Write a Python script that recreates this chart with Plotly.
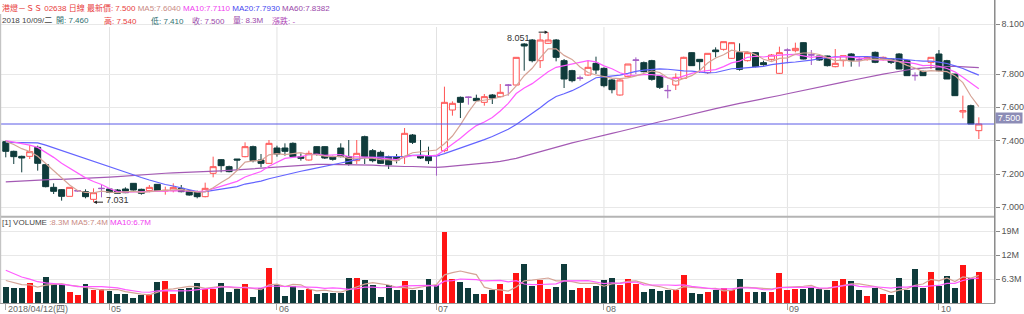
import plotly.graph_objects as go
import pandas as pd

W, H = 1024, 314
FONT = "Liberation Sans, Arial, Noto Sans CJK TC, sans-serif"

# ---------------- data ----------------
opens = [7.394, 7.336, 7.306, 7.306, 7.36, 7.256, 7.12, 7.106, 7.066, 7.098,
         7.094, 7.048, 7.112, 7.11, 7.104, 7.11, 7.144, 7.108, 7.10, 7.138,
         7.098, 7.10, 7.114, 7.10, 7.094, 7.064, 7.204, 7.286, 7.244, 7.29,
         7.304, 7.364, 7.284, 7.264, 7.356, 7.356, 7.384, 7.304, 7.284, 7.364,
         7.364, 7.304, 7.356, 7.304, 7.28, 7.424, 7.34, 7.33, 7.304, 7.304,
         7.304, 7.434, 7.31, 7.31, 7.312, 7.34, 7.584, 7.66, 7.662, 7.654,
         7.63, 7.674, 7.664, 7.732, 7.734, 7.98, 8.004, 7.88, 7.984, 8.004,
         7.88, 7.82, 7.774, 7.794, 7.864, 7.834, 7.764, 7.674, 7.784, 7.882,
         7.868, 7.88, 7.788, 7.702, 7.734, 7.774, 7.928, 7.888, 7.808, 7.944,
         7.948, 7.894, 7.928, 7.88, 7.928, 7.868, 7.888, 7.804, 7.942, 7.94,
         7.988, 7.916, 7.908, 7.908, 7.844, 7.88, 7.92, 7.886, 7.886, 7.93,
         7.886, 7.89, 7.92, 7.88, 7.792, 7.816, 7.87, 7.92, 7.88, 7.80,
         7.572, 7.61, 7.46]
highs = [7.40, 7.34, 7.31, 7.374, 7.37, 7.26, 7.144, 7.11, 7.12, 7.104,
         7.108, 7.114, 7.14, 7.115, 7.11, 7.12, 7.146, 7.112, 7.134, 7.14,
         7.124, 7.144, 7.134, 7.104, 7.10, 7.148, 7.304, 7.29, 7.25, 7.29,
         7.39, 7.37, 7.32, 7.404, 7.37, 7.384, 7.39, 7.324, 7.34, 7.366,
         7.366, 7.31, 7.384, 7.404, 7.404, 7.43, 7.35, 7.34, 7.31, 7.32,
         7.476, 7.44, 7.404, 7.364, 7.315, 7.724, 7.636, 7.665, 7.665, 7.676,
         7.68, 7.68, 7.74, 7.74, 7.90, 7.985, 8.01, 8.044, 8.051, 8.01,
         7.89, 7.825, 7.79, 7.88, 7.904, 7.84, 7.77, 7.77, 7.86, 7.90,
         7.875, 7.885, 7.79, 7.734, 7.804, 7.904, 7.93, 7.89, 7.924, 7.96,
         7.994, 7.99, 7.984, 7.93, 7.93, 7.88, 7.92, 7.964, 7.954, 7.988,
         7.99, 7.944, 7.91, 7.91, 7.95, 7.91, 7.925, 7.90, 7.905, 7.935,
         7.905, 7.895, 7.925, 7.885, 7.81, 7.82, 7.90, 7.944, 7.885, 7.80,
         7.67, 7.616, 7.54]
lows = [7.30, 7.26, 7.21, 7.29, 7.22, 7.12, 7.08, 7.04, 7.066, 7.094,
        7.054, 7.031, 7.06, 7.085, 7.08, 7.085, 7.10, 7.076, 7.09, 7.096,
        7.076, 7.09, 7.09, 7.07, 7.054, 7.06, 7.18, 7.21, 7.21, 7.22,
        7.30, 7.27, 7.24, 7.26, 7.304, 7.31, 7.30, 7.28, 7.28, 7.31,
        7.29, 7.28, 7.30, 7.25, 7.26, 7.26, 7.27, 7.26, 7.23, 7.264,
        7.26, 7.38, 7.29, 7.26, 7.19, 7.33, 7.55, 7.536, 7.616, 7.636,
        7.61, 7.62, 7.66, 7.67, 7.73, 7.82, 7.87, 7.836, 7.98, 7.876,
        7.716, 7.75, 7.76, 7.79, 7.80, 7.72, 7.684, 7.67, 7.78, 7.80,
        7.81, 7.76, 7.71, 7.654, 7.704, 7.77, 7.848, 7.808, 7.80, 7.90,
        7.94, 7.89, 7.82, 7.875, 7.84, 7.85, 7.88, 7.80, 7.864, 7.93,
        7.888, 7.854, 7.88, 7.845, 7.84, 7.844, 7.844, 7.844, 7.88, 7.865,
        7.88, 7.86, 7.83, 7.79, 7.76, 7.79, 7.83, 7.815, 7.77, 7.67,
        7.534, 7.50, 7.41]
closes = [7.336, 7.304, 7.296, 7.334, 7.264, 7.124, 7.096, 7.066, 7.12, 7.10,
          7.064, 7.088, 7.114, 7.09, 7.084, 7.088, 7.104, 7.084, 7.12, 7.10,
          7.102, 7.12, 7.094, 7.074, 7.064, 7.114, 7.244, 7.25, 7.214, 7.284,
          7.364, 7.28, 7.264, 7.384, 7.32, 7.336, 7.304, 7.294, 7.324, 7.32,
          7.296, 7.288, 7.304, 7.26, 7.324, 7.304, 7.28, 7.264, 7.256, 7.284,
          7.444, 7.39, 7.296, 7.28, 7.31, 7.63, 7.624, 7.63, 7.66, 7.64,
          7.664, 7.656, 7.69, 7.734, 7.90, 7.968, 7.88, 8.004, 8.004, 7.90,
          7.77, 7.76, 7.776, 7.84, 7.824, 7.73, 7.706, 7.764, 7.86, 7.884,
          7.814, 7.768, 7.72, 7.70, 7.78, 7.90, 7.85, 7.874, 7.924, 7.934,
          7.994, 7.988, 7.828, 7.928, 7.844, 7.856, 7.914, 7.928, 7.944, 7.954,
          7.89, 7.914, 7.884, 7.85, 7.864, 7.91, 7.88, 7.884, 7.90, 7.87,
          7.90, 7.87, 7.83, 7.79, 7.79, 7.79, 7.90, 7.82, 7.77, 7.67,
          7.58, 7.50, 7.50]
volumes = [4.4, 4.2, 4.0, 5.5, 3.1, 7.0, 5.2, 5.1, 3.1, 2.2,
           5.1, 3.5, 3.8, 3.3, 2.4, 2.4, 1.6, 2.3, 2.4, 5.7,
           6.0, 2.6, 3.9, 4.0, 5.3, 3.8, 3.8, 5.3, 3.1, 3.8,
           5.2, 1.7, 4.0, 9.4, 4.9, 2.0, 4.5, 3.5, 3.8, 2.6,
           2.8, 2.8, 2.8, 6.8, 6.6, 6.1, 4.8, 1.7, 4.8, 3.5,
           5.9, 3.5, 3.7, 6.4, 4.9, 18.9, 6.4, 5.8, 4.0, 2.6,
           2.4, 3.5, 5.1, 2.4, 8.1, 10.3, 4.6, 6.3, 3.9, 4.4,
           10.3, 3.5, 4.0, 4.0, 4.6, 6.3, 6.6, 4.9, 6.5, 5.1,
           3.1, 3.9, 3.4, 3.6, 3.5, 7.5, 2.9, 2.4, 3.1, 3.7,
           4.2, 3.5, 6.4, 3.1, 3.1, 3.1, 3.1, 8.1, 3.5, 3.8,
           3.9, 4.2, 3.8, 3.5, 5.9, 6.4, 5.9, 3.7, 1.9, 4.2,
           2.4, 2.2, 6.6, 3.5, 9.0, 4.0, 8.4, 4.6, 7.3, 4.2,
           10.1, 6.8, 8.3]
# closes / volumes before the first visible day (estimated so the moving averages start where the picture shows)
prior_closes = [7.12, 7.10, 7.08, 7.10, 7.06, 7.04, 7.06, 7.02, 7.00, 6.98,
                6.96, 6.92, 6.88, 6.90, 6.86, 6.84, 6.88, 6.92, 6.94, 6.96,
                6.98, 7.00, 6.98, 7.02, 7.04, 7.02, 7.06, 7.04, 7.08, 7.10,
                7.08, 7.10, 7.06, 7.12, 7.14, 7.12, 7.16, 7.18, 7.20, 7.24,
                7.30, 7.32, 7.30, 7.34, 7.40, 7.42, 7.44, 7.42, 7.44, 7.42,
                7.38, 7.40, 7.42, 7.40, 7.42, 7.40, 7.42, 7.42, 7.404]
prior_volumes = [14, 12, 11, 10, 10, 7, 6.5, 6, 6]

month_idx = [0, 13, 34, 54, 75, 98, 117]
month_labels = ["2018/04/12(四)", "05", "06", "07", "08", "09", "10"]
price_ticks = [7.0, 7.2, 7.4, 7.6, 7.8, 8.1]
vol_ticks = [6.3, 12.6, 18.9]
vol_tick_text = ["6.3M", "12M", "19M"]
last_price = 7.5

header1 = [("港燈－ＳＳ 02638 日線 最新價: 7.500", "#e83c3c"), ("MA5:7.6040", "#c98a84"),
           ("MA10:7.7110", "#f040f0"), ("MA20:7.7930", "#4646f0"), ("MA60:7.8382", "#9a48aa")]
header2 = [("2018 10/09/二", "#444444"), ("開: 7.460", "#2f7070"), ("高: 7.540", "#e83c3c"),
           ("低: 7.410", "#2f7070"), ("收: 7.500", "#9a48aa"), ("量: 8.3M", "#9a48aa"),
           ("漲跌: -", "#b048b8")]
header2_x = [1, 55, 103, 150, 192, 233, 272]
header_vol = [("[1] VOLUME", "#444444"), (":8.3M MA5:7.4M", "#c98a84"), ("MA10:6.7M", "#f040f0")]

# ---------------- colours ----------------
RED = "#ff5454"
DARK = "#0f3b3b"
DOJI = "#a35cc4"
VRED = "#ff1414"
C_MA5, C_MA10, C_MA20, C_MA60 = "#d6a497", "#ff5cff", "#6464ff", "#a45ab4"

# ---------------- geometry (pixels) ----------------
X_RIGHT = 997.7
PRICE_BOT = 216.7
VOL_BOT = 303.3


def py(p):
    return 1 - p / H


n = len(closes)
idx = list(range(n))

allc = pd.Series(prior_closes + closes)
k = len(prior_closes)
ma = {w: allc.rolling(w).mean().iloc[k:].tolist() for w in (5, 10, 20, 60)}
allv = pd.Series(prior_volumes + volumes)
kv = len(prior_volumes)
vma = {w: allv.rolling(w).mean().iloc[kv:].tolist() for w in (5, 10)}

EPS = 0.0025
up = [i for i in idx if closes[i] - opens[i] > EPS]
dn = [i for i in idx if opens[i] - closes[i] > EPS]
dj = [i for i in idx if abs(closes[i] - opens[i]) <= EPS]


def candles(ids, line_col, fill_col):
    st = dict(line=dict(color=line_col, width=1), fillcolor=fill_col)
    return go.Candlestick(
        x=ids, open=[opens[i] for i in ids], high=[highs[i] for i in ids],
        low=[lows[i] for i in ids], close=[closes[i] for i in ids],
        increasing=st, decreasing=st, whiskerwidth=0, showlegend=False,
        hoverinfo="skip", xaxis="x", yaxis="y")


fig = go.Figure()
for w, c in ((60, C_MA60), (20, C_MA20), (10, C_MA10), (5, C_MA5)):
    fig.add_trace(go.Scatter(x=idx, y=ma[w], mode="lines", line=dict(color=c, width=1.2),
                             hoverinfo="skip", xaxis="x", yaxis="y"))
fig.add_trace(candles(up, RED, "white"))
fig.add_trace(candles(dn, DARK, DARK))
fig.add_trace(candles(dj, DOJI, DOJI))

vcols = [VRED if closes[i] > opens[i] else DARK for i in idx]
fig.add_trace(go.Bar(x=idx, y=volumes, marker=dict(color=vcols, line=dict(width=0)), width=0.74,
                     hoverinfo="skip", xaxis="x", yaxis="y2"))
fig.add_trace(go.Scatter(x=idx, y=vma[5], mode="lines", line=dict(color=C_MA5, width=1.2),
                         hoverinfo="skip", xaxis="x", yaxis="y2"))
fig.add_trace(go.Scatter(x=idx, y=vma[10], mode="lines", line=dict(color=C_MA10, width=1.2),
                         hoverinfo="skip", xaxis="x", yaxis="y2"))

price_lo = 7.8 - (PRICE_BOT - 74) / 166.67
price_hi = 7.8 + 74 / 166.67
vol_hi = (VOL_BOT - PRICE_BOT) / 3.81

axis_font = dict(family=FONT, size=9, color="#555")
fig.update_layout(
    width=W, height=H, margin=dict(l=0, r=0, t=0, b=0),
    paper_bgcolor="white", plot_bgcolor="white", showlegend=False,
    boxgap=0.25, boxgroupgap=0, bargap=0,
    font=dict(family=FONT, size=9, color="#555"),
    xaxis=dict(domain=[0, X_RIGHT / W], range=[-0.725, 124], anchor="y2",
               showgrid=False, zeroline=False, showline=True, linecolor="#999",
               ticks="outside", ticklen=6, tickcolor="#aaa", tickvals=month_idx,
               showticklabels=False, rangeslider=dict(visible=False), fixedrange=True),
    yaxis=dict(domain=[py(PRICE_BOT), 1], range=[price_lo, price_hi], side="right", anchor="x",
               tickvals=price_ticks, ticktext=[f"{v:.3f}" for v in price_ticks],
               ticks="outside", ticklen=4, tickcolor="#888", tickfont=axis_font,
               showgrid=True, gridcolor="#e8e8e8", zeroline=False, showline=False, fixedrange=True),
    yaxis2=dict(domain=[py(VOL_BOT), py(PRICE_BOT)], range=[0, vol_hi], side="right", anchor="x",
                tickvals=vol_ticks, ticktext=vol_tick_text,
                ticks="outside", ticklen=4, tickcolor="#888", tickfont=axis_font,
                showgrid=True, gridcolor="#e8e8e8", zeroline=False, showline=False, fixedrange=True),
)

shapes = []
for m in month_idx[1:]:
    shapes.append(dict(type="line", xref="x", yref="paper", x0=m, x1=m, y0=py(VOL_BOT), y1=py(27),
                       line=dict(color="#e2e2e2", width=1), layer="below"))
shapes += [
    dict(type="line", xref="paper", yref="y", x0=0, x1=X_RIGHT / W, y0=last_price, y1=last_price,
         line=dict(color="#5a5ae6", width=1)),
    dict(type="line", xref="paper", yref="paper", x0=0, x1=X_RIGHT / W, y0=py(PRICE_BOT), y1=py(PRICE_BOT),
         line=dict(color="#b4b4b4", width=2)),
    dict(type="line", xref="paper", yref="paper", x0=X_RIGHT / W, x1=X_RIGHT / W, y0=py(VOL_BOT), y1=1,
         line=dict(color="#8a8a8a", width=1.5)),
    dict(type="line", xref="paper", yref="paper", x0=0.6 / W, x1=0.6 / W, y0=py(VOL_BOT), y1=py(14),
         line=dict(color="#c4c4c4", width=1.2)),
]
fig.update_layout(shapes=shapes)


def header(xp, yp, parts, size=8):
    s = " ".join(f'<span style="color:{c}">{t}</span>' for t, c in parts)
    return dict(xref="paper", yref="paper", x=xp / W, y=py(yp), xanchor="left", yanchor="middle",
                text=s, showarrow=False, font=dict(family=FONT, size=size, color="#444"), borderpad=0)


ann = [header(1, 8, header1), header(1, 223, header_vol)]
for xp, part in zip(header2_x, header2):
    ann.append(header(xp, 21, [part]))
for m, lab in zip(month_idx, month_labels):
    ann.append(dict(xref="x", yref="paper", x=m, y=py(308.5), xanchor="left", yanchor="middle",
                    xshift=0, text=lab, showarrow=False, font=dict(family=FONT, size=9, color="#666")))

hi_i = max(idx, key=lambda i: highs[i])
lo_i = min(idx, key=lambda i: lows[i])
ann += [
    dict(xref="x", yref="y", x=hi_i, y=highs[hi_i], ax=-11, ay=0, text="", showarrow=True,
         arrowhead=2, arrowsize=0.7, arrowwidth=1, arrowcolor="#222"),
    dict(xref="x", yref="y", x=hi_i, y=highs[hi_i], xanchor="right", yanchor="middle",
         xshift=-16, yshift=-6, text=f"{highs[hi_i]:.3f}", showarrow=False,
         font=dict(family=FONT, size=9, color="#333")),
    dict(xref="x", yref="y", x=lo_i, y=lows[lo_i], ax=11, ay=0, text="", showarrow=True,
         arrowhead=2, arrowsize=0.7, arrowwidth=1, arrowcolor="#222"),
    dict(xref="x", yref="y", x=lo_i, y=lows[lo_i], xanchor="left", yanchor="middle",
         xshift=10, yshift=2, text=f"{lows[lo_i]:.3f}", showarrow=False,
         font=dict(family=FONT, size=9, color="#333")),
    dict(xref="paper", yref="y", x=X_RIGHT / W, y=last_price, xanchor="left", yanchor="bottom",
         text=f"{last_price:.3f}", showarrow=False, bgcolor="#8c8cb6", width=24, height=8, borderpad=1,
         font=dict(family=FONT, size=9, color="white")),
]
fig.update_layout(annotations=ann)

fig.write_html("out.html")
